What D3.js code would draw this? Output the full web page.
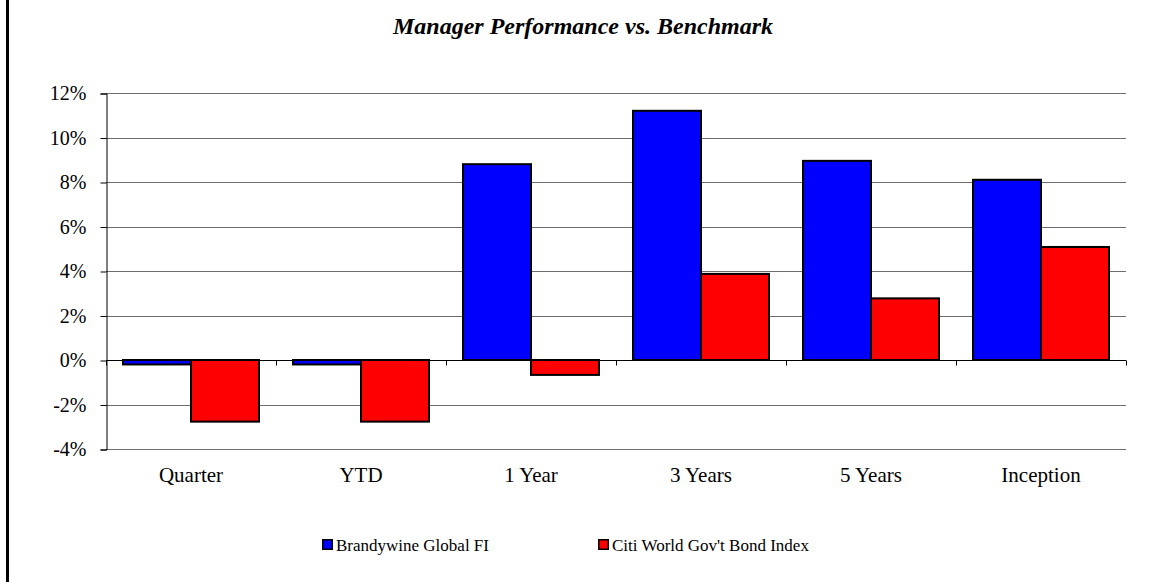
<!DOCTYPE html>
<html>
<head>
<meta charset="utf-8">
<script src="https://cdn.jsdelivr.net/npm/d3@7"></script>
<style>
  html, body { margin: 0; padding: 0; background: #fff; }
  svg { display: block; }
  text { font-family: "Liberation Serif", "Times New Roman", serif; fill: #000; }
</style>
</head>
<body>
<svg id="chart" width="1151" height="582"></svg>
<script>
// Periods on the x axis
const categories = ["Quarter", "YTD", "1 Year", "3 Years", "5 Years", "Inception"];
// Series names (legend order)
const seriesNames = ["Brandywine Global FI", "Citi World Gov't Bond Index"];
// Returns in percent
const managerReturns = [-0.2, -0.2, 8.8, 11.2, 8.95, 8.1];
const benchmarkReturns = [-2.77, -2.77, -0.67, 3.87, 2.77, 5.08];
// Y axis ticks
const yTicks = [-4, -2, 0, 2, 4, 6, 8, 10, 12];
const seriesColors = ["#0000FF", "#FF0000"];

const svg = d3.select("#chart");
const W = 1151, H = 582;
const plot = { left: 106, right: 1126, top: 93, bottom: 449 };

// Left frame edge
svg.append("rect").attr("x", 6).attr("y", 0).attr("width", 3).attr("height", H).attr("fill", "#000");

// Title
svg.append("text")
  .attr("x", 583).attr("y", 34)
  .attr("text-anchor", "middle")
  .style("font-size", "24px").style("font-weight", "bold").style("font-style", "italic")
  .text("Manager Performance vs. Benchmark");

const x0 = d3.scaleBand().domain(categories).range([plot.left, plot.right]).padding(0);
const x1 = d3.scaleBand().domain(seriesNames).range([0, x0.bandwidth()]).paddingInner(0).paddingOuter(0.25);
const y = d3.scaleLinear().domain([-4, 12]).range([plot.bottom, plot.top]);

// Gridlines
svg.append("g").selectAll("line").data(yTicks.filter(t => t !== 0)).join("line")
  .attr("x1", plot.left).attr("x2", plot.right)
  .attr("y1", d => Math.round(y(d)) + 0.5).attr("y2", d => Math.round(y(d)) + 0.5)
  .attr("stroke", "#6e6e6e").attr("stroke-width", 1);

// Y axis
const yAxis = d3.axisLeft(y).tickValues(yTicks).tickSize(6).tickPadding(14).tickFormat(d => d + "%");
const gy = svg.append("g").attr("transform", `translate(${plot.left + 0.5},0.5)`).call(yAxis);
gy.select(".domain").attr("stroke", "#000");
gy.selectAll(".tick line").attr("stroke", "#000");
gy.selectAll(".tick text").style("font-size", "20px").style("font-family", "Liberation Serif, serif");

// Bars
const data = categories.map((c, i) => ({ cat: c, vals: [managerReturns[i], benchmarkReturns[i]] }));
const groups = svg.append("g").selectAll("g").data(data).join("g")
  .attr("transform", d => `translate(${x0(d.cat)},0)`);
groups.selectAll("rect").data(d => d.vals.map((v, k) => ({ v, k }))).join("rect")
  .attr("x", d => x1(seriesNames[d.k]))
  .attr("width", x1.bandwidth())
  .attr("y", d => y(Math.max(0, d.v)))
  .attr("height", d => Math.abs(y(d.v) - y(0)))
  .attr("fill", d => seriesColors[d.k])
  .attr("stroke", "#000").attr("stroke-width", 2);

// X axis along the zero line, ticks at category boundaries
const zeroY = Math.round(y(0)) + 0.5;
svg.append("line").attr("x1", plot.left).attr("x2", plot.right)
  .attr("y1", zeroY).attr("y2", zeroY).attr("stroke", "#000");
const bounds = categories.map(c => x0(c)).concat([plot.right]);
svg.append("g").selectAll("line").data(bounds).join("line")
  .attr("x1", d => Math.round(d) + 0.5).attr("x2", d => Math.round(d) + 0.5)
  .attr("y1", zeroY).attr("y2", zeroY + 5).attr("stroke", "#000");

// Category labels
svg.append("g").selectAll("text").data(categories).join("text")
  .attr("x", d => x0(d) + x0.bandwidth() / 2)
  .attr("y", 482)
  .attr("text-anchor", "middle")
  .style("font-size", "21px")
  .text(d => d);

// Legend
const legendX = [322, 598];
const lg = svg.append("g").selectAll("g").data(seriesNames).join("g")
  .attr("transform", (d, i) => `translate(${legendX[i]},539)`);
lg.append("rect").attr("x", 0.75).attr("y", 0.75).attr("width", 9.5).attr("height", 9.5)
  .attr("fill", (d, i) => seriesColors[i]).attr("stroke", "#000").attr("stroke-width", 1.5);
lg.append("text").attr("x", 14).attr("y", 11.5).style("font-size", "17px").text(d => d);
</script>
</body>
</html>
